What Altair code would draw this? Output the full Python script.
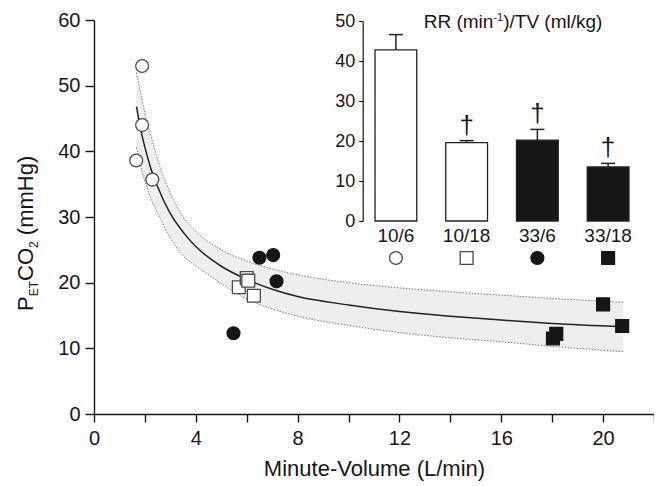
import altair as alt
import pandas as pd

FONT = "Liberation Sans"
INK = "#161616"

# ---- groups (RR / TV) ----
cats = ["10/6", "10/18", "33/6", "33/18"]

# ---- scatter data: minute-volume (L/min) vs PETCO2 (mmHg) ----
mv_10_6 = [1.89, 1.89, 1.66, 2.29]
pet_10_6 = [53.0, 44.0, 38.6, 35.7]
mv_10_18 = [5.69, 6.00, 6.06, 6.28]
pet_10_18 = [19.3, 20.7, 20.3, 18.0]
mv_33_6 = [6.50, 7.04, 7.17, 5.48]
pet_33_6 = [23.8, 24.2, 20.2, 12.3]
mv_33_18 = [20.00, 20.75, 18.16, 18.03]
pet_33_18 = [16.7, 13.4, 12.2, 11.5]

# ---- fitted curve and band ----
fit_x = [1.67, 1.8, 2.0, 2.25, 2.5, 3.0, 3.5, 4.0, 5.0, 6.0, 7.0, 8.0, 10.0, 12.0, 14.0, 16.0, 18.0, 20.8]
fit_mid = [46.8, 44.0, 40.6, 37.2, 34.6, 30.5, 27.7, 25.5, 22.5, 20.5, 19.0, 17.9, 16.6, 15.6, 14.9, 14.3, 13.8, 13.3]
fit_hi = [52.0, 49.5, 45.8, 42.2, 38.8, 33.6, 30.0, 27.8, 25.0, 23.3, 22.1, 21.2, 20.0, 19.2, 18.6, 18.1, 17.6, 17.0]
fit_lo = [40.6, 38.3, 35.4, 32.7, 30.6, 26.8, 24.1, 22.6, 19.9, 17.5, 16.0, 14.9, 13.5, 12.4, 11.6, 11.0, 10.3, 9.5]

# ---- inset bars: RR (min-1)/TV (ml/kg) ----
rr_mean = [42.8, 19.6, 20.2, 13.5]
rr_err_top = [46.6, 20.1, 22.9, 14.4]
rr_mark = ["", "\u2020", "\u2020", "\u2020"]

x_ticks = list(range(0, 23, 2))
y_ticks = list(range(0, 61, 10))
inset_ticks = list(range(0, 51, 10))

pts = pd.DataFrame({
    "mv": mv_10_6 + mv_10_18 + mv_33_6 + mv_33_18,
    "pet": pet_10_6 + pet_10_18 + pet_33_6 + pet_33_18,
    "grp": [cats[0]] * len(mv_10_6) + [cats[1]] * len(mv_10_18)
    + [cats[2]] * len(mv_33_6) + [cats[3]] * len(mv_33_18),
})
fit = pd.DataFrame({"mv": fit_x, "mid": fit_mid, "hi": fit_hi, "lo": fit_lo})
bars = pd.DataFrame({"grp": cats, "rr": rr_mean, "err": rr_err_top, "mark": rr_mark})

# ---- shared style scales ----
shape_enc = alt.Shape("grp:N", scale=alt.Scale(domain=cats, range=["circle", "square", "circle", "square"]), legend=None)
fill_enc = alt.Fill("grp:N", scale=alt.Scale(domain=cats, range=["#ffffff", "#ffffff", INK, INK]), legend=None)
stroke_enc = alt.Stroke("grp:N", scale=alt.Scale(domain=cats, range=["#4a4a4a", "#4a4a4a", INK, INK]), legend=None)

# ---- main plot ----
x_main = alt.X(
    "mv:Q",
    scale=alt.Scale(domain=[0, 22], nice=False, zero=False),
    axis=alt.Axis(
        values=x_ticks, labelExpr="datum.value % 4 == 0 ? datum.label : ''",
        labelOverlap=False, labelFlush=False, tickSize=8, tickWidth=1.4, domainWidth=1.4,
        labelFontSize=20, labelPadding=6, title="Minute-Volume (L/min)",
        titleFontSize=22, titleFontWeight="normal", titlePadding=10, grid=False,
    ),
)
y_scale_main = alt.Scale(domain=[0, 60], nice=False)
y_axis_main = alt.Axis(values=y_ticks, tickSize=9, tickWidth=1.4, domainWidth=1.4,
                       labelFontSize=20, labelPadding=5, title=None, grid=False)

band = alt.Chart(fit).mark_area(color="#eeeeee", interpolate="monotone").encode(
    x=x_main, y=alt.Y("hi:Q", scale=y_scale_main, axis=y_axis_main), y2="lo:Q")
upper = alt.Chart(fit).mark_line(color="#7a7a7a", strokeWidth=1, strokeDash=[1.5, 1.5], interpolate="monotone").encode(
    x=x_main, y=alt.Y("hi:Q", scale=y_scale_main, axis=y_axis_main))
lower = alt.Chart(fit).mark_line(color="#7a7a7a", strokeWidth=1, strokeDash=[1.5, 1.5], interpolate="monotone").encode(
    x=x_main, y=alt.Y("lo:Q", scale=y_scale_main, axis=y_axis_main))
center = alt.Chart(fit).mark_line(color="#222222", strokeWidth=1.5, interpolate="monotone").encode(
    x=x_main, y=alt.Y("mid:Q", scale=y_scale_main, axis=y_axis_main))
points = alt.Chart(pts).mark_point(filled=True, size=165, opacity=1, strokeWidth=1.3).encode(
    x=x_main, y=alt.Y("pet:Q", scale=y_scale_main, axis=y_axis_main),
    shape=shape_enc, fill=fill_enc, stroke=stroke_enc)

main = alt.layer(band, upper, lower, center, points)

# ---- inset ----
x_in = alt.X(
    "grp:N", sort=cats,
    scale=alt.Scale(domain=cats, range=[269, 547], paddingInner=0.41, paddingOuter=0.17),
    axis=alt.Axis(orient="bottom", offset=-193, domain=False, ticks=False, labelAngle=0,
                  labelFontSize=19, labelPadding=5, title=None, grid=False),
)
y_scale_in = alt.Scale(domain=[0, 50], range=[201, 1], nice=False)
y_axis_in = alt.Axis(orient="left", offset=-268.7, values=inset_ticks, tickSize=4, tickWidth=1.2,
                     domainWidth=1.2, labelFontSize=18, labelPadding=4, title=None, grid=False)

ibars = alt.Chart(bars).mark_bar(stroke="#222222", strokeWidth=1.3, opacity=1).encode(
    x=x_in, y=alt.Y("rr:Q", scale=y_scale_in, axis=y_axis_in), fill=fill_enc)
irule = alt.Chart(bars).mark_rule(color="#222222", strokeWidth=1.5).encode(
    x=x_in, y=alt.Y("rr:Q", scale=y_scale_in, axis=y_axis_in), y2="err:Q")
icap = alt.Chart(bars).mark_tick(color="#222222", thickness=1.5, size=14, opacity=1).encode(
    x=x_in, y=alt.Y("err:Q", scale=y_scale_in, axis=y_axis_in))
idag = alt.Chart(bars).mark_text(font=FONT, fontSize=26, baseline="alphabetic", dy=-7, color=INK).encode(
    x=x_in, y=alt.Y("err:Q", scale=y_scale_in, axis=y_axis_in), text="mark:N")
isym = alt.Chart(bars).mark_point(filled=True, size=165, opacity=1, strokeWidth=1.3).encode(
    x=x_in, y=alt.value(238), shape=shape_enc, fill=fill_enc, stroke=stroke_enc)

inset = alt.layer(ibars, irule, icap, idag, isym)


# ---- composed texts (sub/superscripts) ----
def label(txt, x, y, size, angle=0):
    return alt.Chart(alt.Data(values=[{"t": txt}])).mark_text(
        font=FONT, fontSize=size, angle=angle, align="left", baseline="alphabetic", color=INK
    ).encode(text="t:N", x=alt.value(x), y=alt.value(y))


texts = alt.layer(
    label("P", -61, 291, 22, 270),
    label("ET", -56, 276.3, 12, 270),
    label("CO", -61, 261.0, 22, 270),
    label("2", -56, 228.0, 12, 270),
    label("(mmHg)", -61, 215.2, 22, 270),
    label("RR (min", 329.7, 8.3, 19),
    label("-1", 399.4, 1.3, 11),
    label(")/TV (ml/kg)", 409.2, 8.3, 19),
)

chart = alt.layer(main, inset, texts).resolve_scale(
    x="independent", y="independent"
).properties(
    width=560, height=394,
    autosize=alt.AutoSizeParams(type="none"),
    padding={"left": 86, "top": 12, "right": 0, "bottom": 72},
).configure_axis(
    labelFont=FONT, titleFont=FONT, labelColor=INK, titleColor=INK,
    domainColor=INK, tickColor=INK,
).configure_view(stroke=None)

chart.save("out.html", embed_options={"renderer": "svg", "actions": False})
